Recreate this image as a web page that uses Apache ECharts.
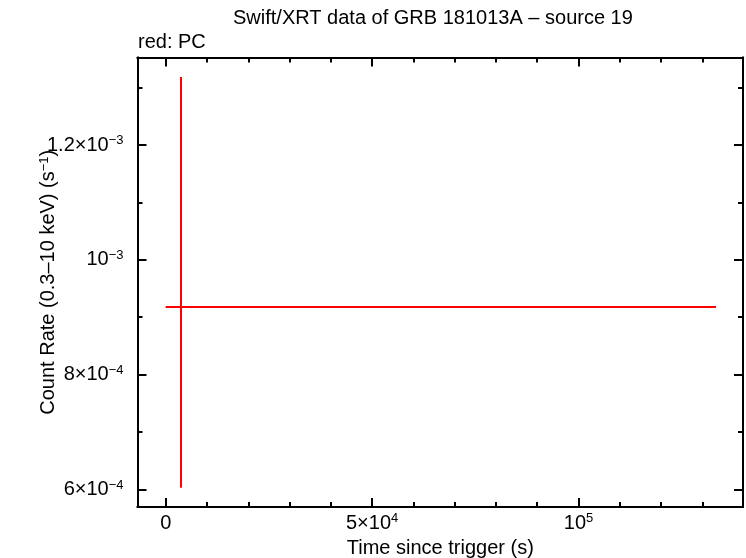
<!DOCTYPE html>
<html>
<head>
<meta charset="utf-8">
<script src="https://cdn.jsdelivr.net/npm/echarts@6/dist/echarts.min.js"></script>
<style>html,body{margin:0;padding:0;background:#fff}#c{width:746px;height:558px}</style>
</head>
<body>
<div id="c"></div>
<script>
// ---- data ----
const timeSec = [3706];
const timeLo = [0];
const timeHi = [133300];
const rate = [9.18e-4];
const rateLo = [6.03e-4];
const rateHi = [1.3185e-3];

// ---- axes ----
const xMin = -6830, xMax = 139850;
const yMin = 5.695e-4, yMax = 1.3524e-3;
const xMajorTicks = [0, 50000, 100000];
const xMajorLabels = ['0', '5×10|4', '10|5'];
const xMinorTicks = [10000, 20000, 30000, 40000, 60000, 70000, 80000, 90000, 110000, 120000, 130000];
const yMajorTicks = [6e-4, 8e-4, 1e-3, 1.2e-3];
const yMajorLabels = ['6×10|−4', '8×10|−4', '10|−3', '1.2×10|−3'];
const yMinorTicks = [7e-4, 9e-4, 1.1e-3, 1.3e-3];

const titleText = 'Swift/XRT data of GRB 181013A – source 19';
const subText = 'red: PC';
const xName = 'Time since trigger (s)';
const yName = '{b|Count Rate (0.3–10 keV) (s}{sup|−1}{b|)}';

const FONT = 'Liberation Sans, Arial, Helvetica, sans-serif';
const rich = {
  b: {fontSize: 20, fontFamily: FONT, color: '#000', lineHeight: 22},
  sup: {fontSize: 13, fontFamily: FONT, color: '#000', verticalAlign: 'top', lineHeight: 22, padding: [0, 0, 12, 0]}
};
function fmt(labels, ticks) {
  return function (v) {
    let idx = -1;
    for (let i = 0; i < ticks.length; i++) if (Math.abs(ticks[i] - v) <= Math.abs(ticks[i]) * 1e-6 + 1e-12) idx = i;
    if (idx < 0) return '';
    const parts = labels[idx].split('|');
    let s = '{b|' + parts[0] + '}';
    if (parts.length > 1) s += '{sup|' + parts[1] + '}';
    return s;
  };
}

const gridRect = {left: 137.5, right: 3, top: 57.5, bottom: 51, outerBoundsMode: 'none', containLabel: false};
const lineStyle = {color: '#000', width: 2};

function xAx(gridIndex, pos, ticks, len, labels, name) {
  return {
    type: 'value', gridIndex, position: pos, min: xMin, max: xMax,
    axisLine: {show: true, onZero: false, lineStyle},
    axisTick: {show: true, inside: true, length: len, customValues: ticks, lineStyle: {color: '#000', width: 2}},
    axisLabel: labels ? {show: true, customValues: ticks, formatter: fmt(labels, ticks), rich, margin: 5} : {show: false},
    splitLine: {show: false},
    name: name || '', nameLocation: 'middle', nameGap: 31, nameMoveOverlap: false,
    nameTextStyle: {fontSize: 20, fontFamily: FONT, color: '#000'}
  };
}
function yAx(gridIndex, pos, ticks, len, labels, name) {
  return {
    type: 'value', gridIndex, position: pos, min: yMin, max: yMax,
    axisLine: {show: true, onZero: false, lineStyle},
    axisTick: {show: true, inside: true, length: len, customValues: ticks, lineStyle: {color: '#000', width: 2}},
    axisLabel: labels ? {show: true, customValues: ticks, formatter: fmt(labels, ticks), rich, margin: 14} : {show: false},
    splitLine: {show: false},
    name: name || '', nameLocation: 'middle', nameGap: 78, nameRotate: 90, nameMoveOverlap: false,
    nameTextStyle: {fontSize: 20, fontFamily: FONT, color: '#000', rich: rich}
  };
}

const chart = echarts.init(document.getElementById('c'), null, {renderer: 'canvas'});
chart.setOption({
  backgroundColor: '#fff',
  animation: false,
  grid: [Object.assign({}, gridRect), Object.assign({}, gridRect)],
  xAxis: [
    xAx(0, 'bottom', xMajorTicks, 9, xMajorLabels, xName),
    xAx(0, 'top', xMajorTicks, 9, null),
    xAx(1, 'bottom', xMinorTicks, 5, null),
    xAx(1, 'top', xMinorTicks, 5, null)
  ],
  yAxis: [
    yAx(0, 'left', yMajorTicks, 9, yMajorLabels, yName),
    yAx(0, 'right', yMajorTicks, 9, null),
    yAx(1, 'left', yMinorTicks, 5, null),
    yAx(1, 'right', yMinorTicks, 5, null)
  ],
  graphic: [
    {type: 'text', left: 233, top: 8, style: {text: titleText, fontSize: 20, fontFamily: FONT, fill: '#000'}},
    {type: 'text', left: 138, top: 32, style: {text: subText, fontSize: 20, fontFamily: FONT, fill: '#000'}}
  ],
  series: [{
    type: 'custom',
    xAxisIndex: 0, yAxisIndex: 0,
    data: timeSec.map((t, i) => [t, rate[i], timeLo[i], timeHi[i], rateLo[i], rateHi[i]]),
    renderItem: function (params, api) {
      const xl = api.coord([api.value(2), api.value(1)]);
      const xh = api.coord([api.value(3), api.value(1)]);
      const yl = api.coord([api.value(0), api.value(4)]);
      const yh = api.coord([api.value(0), api.value(5)]);
      const st = {stroke: '#ff0000', lineWidth: 2};
      return {type: 'group', children: [
        {type: 'line', shape: {x1: xl[0], y1: xl[1], x2: xh[0], y2: xh[1]}, style: st},
        {type: 'line', shape: {x1: yl[0], y1: yl[1], x2: yh[0], y2: yh[1]}, style: st}
      ]};
    }
  }]
});
</script>
</body>
</html>
